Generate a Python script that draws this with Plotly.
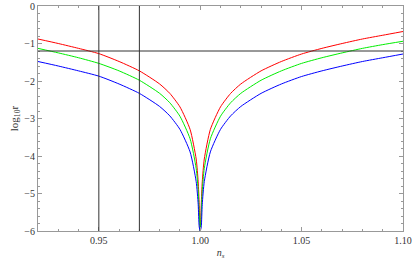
import plotly.graph_objects as go

ns = [0.92, 0.93, 0.94, 0.95, 0.96, 0.97, 0.98, 0.985, 0.99, 0.995, 0.998, 0.999, 0.9995,
      1.0, 1.0005, 1.001, 1.002, 1.005, 1.01, 1.015, 1.02, 1.03, 1.04, 1.05, 1.06, 1.07, 1.08, 1.09, 1.10]
red = [-0.88, -1.00, -1.13, -1.27, -1.48, -1.73, -2.08, -2.33, -2.69, -3.29, -4.08, -4.69, -5.29,
       -6.0, -5.29, -4.69, -4.08, -3.29, -2.69, -2.33, -2.08, -1.73, -1.48, -1.28, -1.13, -1.00, -0.88, -0.78, -0.68]
green = [-1.13, -1.25, -1.38, -1.53, -1.73, -1.98, -2.33, -2.58, -2.94, -3.54, -4.33, -4.94, -5.54,
         -6.0, -5.54, -4.94, -4.33, -3.54, -2.94, -2.58, -2.33, -1.98, -1.73, -1.53, -1.38, -1.25, -1.13, -1.03, -0.94]
blue = [-1.48, -1.60, -1.73, -1.87, -2.08, -2.33, -2.68, -2.93, -3.29, -3.89, -4.68, -5.29, -5.89,
        -6.0, -5.89, -5.29, -4.68, -3.89, -3.29, -2.93, -2.68, -2.33, -2.08, -1.88, -1.73, -1.60, -1.48, -1.38, -1.28]
vlines = [0.95, 0.97]
hlines = [-1.2]
xticks = [0.95, 1.00, 1.05, 1.10]
yticks = [0, -1, -2, -3, -4, -5, -6]

fig = go.Figure()
for ys, c in [(red, "#ff0000"), (green, "#00ee00"), (blue, "#0000ff")]:
    fig.add_trace(go.Scatter(x=ns, y=ys, mode="lines", line=dict(color=c, width=1, shape="spline", smoothing=0.6),
                             showlegend=False, hoverinfo="skip"))
for v in vlines:
    fig.add_shape(type="line", xref="x", yref="paper", x0=v, x1=v, y0=0, y1=1,
                  line=dict(color="#333333", width=1))
for h in hlines:
    fig.add_shape(type="line", xref="paper", yref="y", x0=0, x1=1, y0=h, y1=h,
                  line=dict(color="#333333", width=1))

axis_common = dict(showgrid=False, zeroline=False, showline=True, linecolor="#999999", linewidth=1,
                   mirror="ticks", ticks="inside", ticklen=4, tickcolor="#999999",
                   tickfont=dict(family="Liberation Serif", size=10, color="#333333"))
fig.update_xaxes(range=[0.92, 1.10], tickvals=xticks, ticktext=["%.2f" % t for t in xticks],
                 minor=dict(dtick=0.01, tick0=0.92, ticks="inside", ticklen=2, tickcolor="#999999"),
                 title=dict(text="<i>n<sub>s</sub></i>", font=dict(family="Liberation Serif", size=10, color="#333333"), standoff=3),
                 **axis_common)
fig.update_yaxes(range=[-6, 0], tickvals=yticks, ticktext=["0" if t == 0 else "\u2212%d" % -t for t in yticks],
                 minor=dict(dtick=0.2, tick0=0, ticks="inside", ticklen=2, tickcolor="#999999"),
                 title=dict(text="log<sub>10</sub>r", font=dict(family="Liberation Serif", size=11, color="#333333"), standoff=3),
                 **axis_common)
fig.update_layout(width=414, height=267, margin=dict(l=38, r=11, t=6, b=36, autoexpand=False),
                  paper_bgcolor="white", plot_bgcolor="white")
fig.write_html("out.html", config={"displayModeBar": False, "staticPlot": True},
               post_script="document.body.style.margin='0';document.body.style.overflow='hidden';")
